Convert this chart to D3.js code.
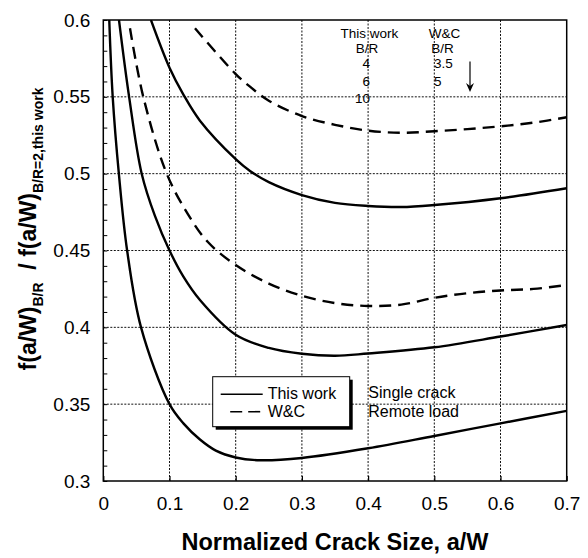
<!DOCTYPE html>
<html>
<head>
<meta charset="utf-8">
<script src="https://cdn.jsdelivr.net/npm/d3@7"></script>
<style>
  html, body { margin: 0; padding: 0; background: #fff; }
  svg { display: block; font-family: "Liberation Sans", Arial, sans-serif; }
</style>
</head>
<body>
<svg id="chart" width="588" height="558"></svg>
<script>
// Normalized crack size a/W and the ratio f(a/W)_B/R / f(a/W)_B/R=2 for each case
const xTicks = [0, 0.1, 0.2, 0.3, 0.4, 0.5, 0.6, 0.7];
const yTicks = [0.3, 0.35, 0.4, 0.45, 0.5, 0.55, 0.6];
const yMinorTicks = d3.range(31).map(i => +(0.3 + i * 0.01).toFixed(2));

// This work, B/R = 4
const thisWork4 = [
  [0.009, 0.6], [0.0142, 0.55], [0.0235, 0.5], [0.036, 0.45], [0.057, 0.4],
  [0.1, 0.35], [0.121, 0.3375], [0.146, 0.327], [0.17, 0.3198],
  [0.2, 0.3153], [0.237, 0.3135], [0.3, 0.315], [0.4, 0.3213], [0.5, 0.3293],
  [0.6, 0.3375], [0.7, 0.3456]
];
// This work, B/R = 6
const thisWork6 = [
  [0.0237, 0.6], [0.039, 0.55], [0.058, 0.5], [0.078, 0.4725], [0.1, 0.45],
  [0.121, 0.433], [0.146, 0.4178], [0.2, 0.3952], [0.25, 0.3866],
  [0.3, 0.3828], [0.35, 0.3815], [0.4, 0.383], [0.5, 0.387], [0.6, 0.394],
  [0.7, 0.4015]
];
// This work, B/R = 10
const thisWork10 = [
  [0.072, 0.6], [0.1, 0.569], [0.121, 0.5515], [0.146, 0.5345], [0.2, 0.5095],
  [0.2216, 0.5018], [0.25, 0.4945], [0.3, 0.4861], [0.35, 0.481], [0.4, 0.479],
  [0.45, 0.4783], [0.5, 0.4796], [0.6, 0.484], [0.7, 0.4905]
];
// W&C, B/R = 3.5
const wc35 = [
  [0.0403, 0.5946], [0.0604, 0.55], [0.0958, 0.5], [0.128, 0.4735], [0.158, 0.4555],
  [0.2, 0.4405], [0.25, 0.4285], [0.3, 0.4205], [0.35, 0.4158], [0.4, 0.4139],
  [0.45, 0.4148], [0.5, 0.4192], [0.55, 0.4222], [0.6, 0.4240], [0.65, 0.4250],
  [0.7, 0.4276]
];
// W&C, B/R = 5
const wc5 = [
  [0.1385, 0.5946], [0.2, 0.5648], [0.2216, 0.5566], [0.25, 0.5475], [0.3, 0.5375],
  [0.35, 0.5318], [0.4, 0.528], [0.45, 0.5266], [0.5, 0.5276], [0.55, 0.529],
  [0.6, 0.5308], [0.65, 0.5332], [0.7, 0.5367]
];

const solidSeries = [thisWork4, thisWork6, thisWork10];
const dashedSeries = [wc35, wc5];

const legendLabels = ["This work", "W&C"];
const noteLines = ["Single crack", "Remote load"];
const thisWorkBR = ["4", "6", "10"];
const wcBR = ["3.5", "5"];

const svg = d3.select("#chart");
const margin = { top: 20, right: 21.3, bottom: 77, left: 103.3 };
const W = 588 - margin.left - margin.right;
const H = 558 - margin.top - margin.bottom;

const x = d3.scaleLinear().domain([0, 0.7]).range([0, W]);
const y = d3.scaleLinear().domain([0.3, 0.6]).range([H, 0]);

const g = svg.append("g").attr("transform", `translate(${margin.left},${margin.top})`);

// dotted grid
const grid = g.append("g").attr("class", "grid");
grid.selectAll("line.gx").data(xTicks.slice(1, -1)).join("line")
  .attr("x1", d => x(d)).attr("x2", d => x(d)).attr("y1", 0).attr("y2", H)
  .attr("stroke", "#111").attr("stroke-width", 1).attr("stroke-dasharray", "2,1.5");
grid.selectAll("line.gy").data(yTicks.slice(1, -1)).join("line")
  .attr("y1", d => y(d)).attr("y2", d => y(d)).attr("x1", 0).attr("x2", W)
  .attr("stroke", "#111").attr("stroke-width", 1).attr("stroke-dasharray", "2,1.5");

// inward minor ticks on the left axis
g.append("g")
  .call(d3.axisLeft(y).tickValues(yMinorTicks).tickSize(-4).tickFormat(""))
  .call(a => a.select(".domain").remove())
  .selectAll("line").attr("stroke", "#000").attr("stroke-width", 1);

// inward ticks on the bottom axis
g.append("g").attr("transform", `translate(0,${H})`)
  .call(d3.axisBottom(x).tickValues(xTicks).tickSize(-5).tickFormat(""))
  .call(a => a.select(".domain").remove())
  .selectAll("line").attr("stroke", "#000").attr("stroke-width", 1.2);

// tick labels
g.append("g").attr("transform", `translate(0,${H})`)
  .call(d3.axisBottom(x).tickValues(xTicks).tickSize(0).tickPadding(16).tickFormat(d3.format("")))
  .call(a => a.select(".domain").remove())
  .selectAll("text").attr("font-size", 19).attr("fill", "#000")
  .attr("font-family", "Liberation Sans, Arial, sans-serif");
g.append("g")
  .call(d3.axisLeft(y).tickValues(yTicks).tickSize(0).tickPadding(13).tickFormat(d3.format("")))
  .call(a => a.select(".domain").remove())
  .selectAll("text").attr("font-size", 19).attr("fill", "#000")
  .attr("font-family", "Liberation Sans, Arial, sans-serif");

// curves
g.append("clipPath").attr("id", "plotClip")
  .append("rect").attr("x", 0).attr("y", 0).attr("width", W).attr("height", H);
const line = d3.line().x(d => x(d[0])).y(d => y(d[1])).curve(d3.curveCatmullRom.alpha(0.5));
const curves = g.append("g").attr("clip-path", "url(#plotClip)");
curves.selectAll("path.solid").data(solidSeries).join("path")
  .attr("class", "solid").attr("d", line)
  .attr("fill", "none").attr("stroke", "#000").attr("stroke-width", 2.4);
curves.selectAll("path.dashed").data(dashedSeries).join("path")
  .attr("class", "dashed").attr("d", line)
  .attr("fill", "none").attr("stroke", "#000").attr("stroke-width", 2.4)
  .attr("stroke-dasharray", "12,7");

// frame
g.append("rect").attr("x", 0).attr("y", 0).attr("width", W).attr("height", H)
  .attr("fill", "none").attr("stroke", "#000").attr("stroke-width", 1.5);

// legend with drop shadow
const lg = g.append("g").attr("transform", `translate(${212.7 - margin.left},${376.7 - margin.top})`);
lg.append("rect").attr("x", 3).attr("y", 3).attr("width", 137).attr("height", 50).attr("fill", "#000");
lg.append("rect").attr("x", 0).attr("y", 0).attr("width", 137).attr("height", 50)
  .attr("fill", "#fff").attr("stroke", "#000").attr("stroke-width", 1);
lg.append("line").attr("x1", 8).attr("x2", 50).attr("y1", 17.5).attr("y2", 17.5)
  .attr("stroke", "#000").attr("stroke-width", 1.6);
lg.append("line").attr("x1", 17.5).attr("x2", 47.5).attr("y1", 35).attr("y2", 35)
  .attr("stroke", "#000").attr("stroke-width", 1.6).attr("stroke-dasharray", "12,6");
lg.selectAll("text").data(legendLabels).join("text")
  .attr("x", 55).attr("y", (d, i) => 22.6 + i * 17.4)
  .attr("font-size", 16).attr("fill", "#000").text(d => d);

// load-case note
g.selectAll("text.note").data(noteLines).join("text").attr("class", "note")
  .attr("x", 368.3 - margin.left).attr("y", (d, i) => 398.3 - margin.top + i * 18.4)
  .attr("font-size", 16).attr("fill", "#000").text(d => d);

// B/R key in the upper right
const key = g.append("g").attr("font-size", 13.5).attr("fill", "#000");
key.append("text").attr("x", 369.3 - margin.left).attr("y", 38.3 - margin.top)
  .attr("text-anchor", "middle").text("This work");
key.append("text").attr("x", 367 - margin.left).attr("y", 52.7 - margin.top)
  .attr("text-anchor", "middle").text("B/R");
key.append("text").attr("x", 444.5 - margin.left).attr("y", 38.3 - margin.top)
  .attr("text-anchor", "middle").text("W&C");
key.append("text").attr("x", 442.5 - margin.left).attr("y", 52.7 - margin.top)
  .attr("text-anchor", "middle").text("B/R");
key.selectAll("text.tw").data(thisWorkBR).join("text").attr("class", "tw")
  .attr("x", 370 - margin.left).attr("y", (d, i) => 68.3 - margin.top + i * 17.2)
  .attr("text-anchor", "end").text(d => d);
key.selectAll("text.wc").data(wcBR).join("text").attr("class", "wc")
  .attr("x", 434 - margin.left).attr("y", (d, i) => 68.3 - margin.top + i * 17.7)
  .attr("text-anchor", "start").text(d => d);
// downward arrow
key.append("line").attr("x1", 470 - margin.left).attr("x2", 470 - margin.left)
  .attr("y1", 61.5 - margin.top).attr("y2", 88 - margin.top)
  .attr("stroke", "#000").attr("stroke-width", 1.2);
key.append("path")
  .attr("d", `M${466 - margin.left},${83 - margin.top} L${470 - margin.left},${92 - margin.top} L${474 - margin.left},${83 - margin.top} L${470 - margin.left},${86 - margin.top} Z`)
  .attr("fill", "#000");

// axis titles
svg.append("text").attr("x", margin.left + W / 2).attr("y", 550)
  .attr("text-anchor", "middle").attr("font-size", 23.5).attr("font-weight", "bold")
  .attr("fill", "#000").text("Normalized Crack Size, a/W");

const yt = svg.append("text")
  .attr("transform", "translate(36,229) rotate(-90)")
  .attr("text-anchor", "middle").attr("font-weight", "bold").attr("fill", "#000")
  .attr("font-size", 23);
yt.append("tspan").text("f(a/W)");
yt.append("tspan").attr("font-size", 14).attr("dy", 7).text("B/R");
yt.append("tspan").attr("dy", -7).text("\u00a0 / f(a/W)");
yt.append("tspan").attr("font-size", 14).attr("dy", 7).text("B/R=2,this work");
</script>
</body>
</html>
